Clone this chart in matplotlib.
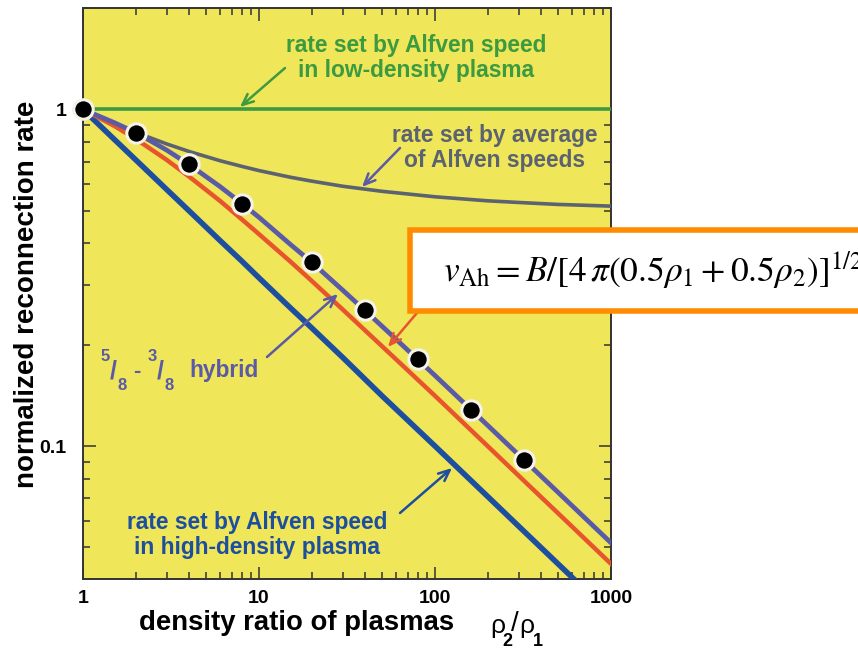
import matplotlib
matplotlib.use("Agg")
import matplotlib.pyplot as plt
from matplotlib.patches import Rectangle

# density ratio rho2/rho1 at which the curves are sampled
ratio = [1, 1.5, 2, 3, 4, 6, 8, 10, 15, 20, 30, 50, 100, 200, 300, 500, 1000]

# normalized reconnection rate for each model
rate_low_density = [1.0] * len(ratio)
rate_average = [1.0, 0.908, 0.854, 0.789, 0.750, 0.704, 0.677, 0.658, 0.629,
                0.612, 0.591, 0.571, 0.550, 0.535, 0.529, 0.522, 0.516]
rate_high_density = [1.0, 0.816, 0.707, 0.577, 0.500, 0.408, 0.354, 0.316, 0.258,
                     0.224, 0.183, 0.141, 0.100, 0.0707, 0.0577, 0.0447, 0.0316]
rate_hybrid_alfven = [1.0, 0.894, 0.816, 0.707, 0.632, 0.535, 0.471, 0.426, 0.354,
                      0.309, 0.254, 0.198, 0.141, 0.0998, 0.0815, 0.0632, 0.0447]
rate_hybrid_58_38 = [1.0, 0.914, 0.853, 0.756, 0.686, 0.590, 0.525, 0.478, 0.398,
                     0.351, 0.290, 0.227, 0.162, 0.115, 0.094, 0.0729, 0.0516]

# simulation results
sim_ratio = [1, 2, 4, 8, 20, 40, 80, 160, 320]
sim_rate = [1.0, 0.853, 0.686, 0.525, 0.351, 0.253, 0.181, 0.128, 0.091]

x_ticks = [1, 10, 100, 1000]
x_ticklabels = ["1", "10", "100", "1000"]
y_ticks = [0.1, 1]
y_ticklabels = ["0.1", "1"]

W, H = 858, 652
BG = "#efe65a"
GREEN = "#3c9a40"
GRAY = "#5b6270"
BLUE = "#1d4f9e"
RED = "#e8552c"
PURPLE = "#5a5aa6"
FONT = "Liberation Sans"

plt.rcParams["font.family"] = FONT

fig = plt.figure(figsize=(W / 100, H / 100), dpi=100)
fig.patch.set_facecolor("white")


def fx(px):
    return px / W


def fy(py):
    return 1 - py / H


ax = fig.add_axes([fx(83), fy(579), fx(611) - fx(83), fy(8) - fy(579)])
ax.set_facecolor(BG)
ax.set_xscale("log")
ax.set_yscale("log")
ax.set_xlim(1, 1000)
ax.set_ylim(0.0403, 2.0)

ax.plot(ratio, rate_low_density, color=GREEN, lw=2.6, zorder=3)
ax.plot(ratio, rate_average, color=GRAY, lw=2.6, zorder=3)
ax.plot(ratio, rate_high_density, color=BLUE, lw=4.0, zorder=3)
ax.plot(ratio, rate_hybrid_alfven, color=RED, lw=3.2, zorder=3)
ax.plot(ratio, rate_hybrid_58_38, color=PURPLE, lw=3.4, zorder=3)

ax.plot(sim_ratio, sim_rate, "o", ms=15.5, color="#9a9a90", mec="none", zorder=4, clip_on=False)
ax.plot(sim_ratio, sim_rate, "o", ms=14, color="black", mec="#f6f4ea", mew=2.2, zorder=5, clip_on=False)

ax.set_xticks(x_ticks)
ax.set_xticklabels(x_ticklabels)
ax.set_yticks(y_ticks)
ax.set_yticklabels(y_ticklabels)
ax.yaxis.set_minor_formatter(matplotlib.ticker.NullFormatter())
ax.xaxis.set_minor_formatter(matplotlib.ticker.NullFormatter())
ax.tick_params(which="both", direction="in", top=True, right=True, color="#333333", width=1.1)
ax.tick_params(which="major", length=9, labelsize=14, pad=8)
ax.tick_params(axis="y", which="major", pad=12)
ax.tick_params(which="minor", length=5)
for lab in ax.get_xticklabels() + ax.get_yticklabels():
    lab.set_fontweight("bold")
for sp in ax.spines.values():
    sp.set_color("#333333")
    sp.set_linewidth(1.4)

fig.text(fx(297), fy(623), "density ratio of plasmas", fontsize=19.8, fontweight="bold",
         ha="center", va="center")
fig.text(fx(27), fy(294), "normalized reconnection rate", fontsize=20, fontweight="bold",
         ha="center", va="center", rotation=90)

# rho2/rho1 label assembled from pieces
fig.text(fx(490), fy(626), "ρ", fontsize=19, ha="left", va="center")
fig.text(fx(502), fy(641), "2", fontsize=13, fontweight="bold", ha="left", va="center")
fig.text(fx(511), fy(624), "/", fontsize=20, ha="left", va="center")
fig.text(fx(519), fy(626), "ρ", fontsize=19, ha="left", va="center")
fig.text(fx(533), fy(641), "1", fontsize=13, fontweight="bold", ha="left", va="center")


def arrow(tail, tip, color, lw=1.8):
    ax.annotate("", xy=(fx(tip[0]), fy(tip[1])), xycoords="figure fraction",
                xytext=(fx(tail[0]), fy(tail[1])), textcoords="figure fraction",
                arrowprops=dict(arrowstyle="->,head_length=0.8,head_width=0.35",
                                color=color, lw=lw, shrinkA=0, shrinkB=0),
                zorder=6)


fs_note = 16.4
fig.text(fx(416), fy(58), "rate set by Alfven speed\nin low-density plasma", color=GREEN,
         fontsize=fs_note, fontweight="bold", ha="center", va="center", linespacing=1.1)
arrow((285, 68), (240, 107), GREEN)

fig.text(fx(495), fy(148), "rate set by average\nof Alfven speeds", color=GRAY,
         fontsize=fs_note, fontweight="bold", ha="center", va="center", linespacing=1.1)
arrow((400, 148), (362, 187), PURPLE)

fig.text(fx(257), fy(535), "rate set by Alfven speed\nin high-density plasma", color=BLUE,
         fontsize=fs_note, fontweight="bold", ha="center", va="center", linespacing=1.1)
arrow((400, 513), (452, 468), BLUE)

# 5/8 - 3/8 hybrid label
fig.text(fx(105), fy(357), "5", color=PURPLE, fontsize=12, fontweight="bold", ha="center", va="center")
fig.text(fx(113), fy(371), "/", color=PURPLE, fontsize=18, fontweight="bold", ha="center", va="center")
fig.text(fx(122), fy(386), "8", color=PURPLE, fontsize=12, fontweight="bold", ha="center", va="center")
fig.text(fx(137), fy(371), "-", color=PURPLE, fontsize=16, fontweight="bold", ha="center", va="center")
fig.text(fx(152), fy(357), "3", color=PURPLE, fontsize=12, fontweight="bold", ha="center", va="center")
fig.text(fx(160), fy(371), "/", color=PURPLE, fontsize=18, fontweight="bold", ha="center", va="center")
fig.text(fx(169), fy(386), "8", color=PURPLE, fontsize=12, fontweight="bold", ha="center", va="center")
fig.text(fx(189), fy(370), "hybrid", color=PURPLE, fontsize=fs_note, fontweight="bold",
         ha="left", va="center")
arrow((267, 357), (338, 294), PURPLE)

arrow((428, 300), (388, 347), RED)

# formula box, running off the right edge of the figure
box = Rectangle((fx(410), fy(311)), fx(470), fy(230) - fy(311), transform=fig.transFigure,
                facecolor="white", edgecolor="#ff8c00", linewidth=4, zorder=10,
                clip_on=False)
fig.add_artist(box)
fig.text(fx(443), fy(270), r"$v_{\mathrm{Ah}} = B/[4\,\pi(0.5\rho_1 + 0.5\rho_2)]^{1/2}$",
         fontsize=25.5, ha="left", va="center", math_fontfamily="stix", zorder=11)

fig.savefig("out.png", dpi=100, facecolor="white")
